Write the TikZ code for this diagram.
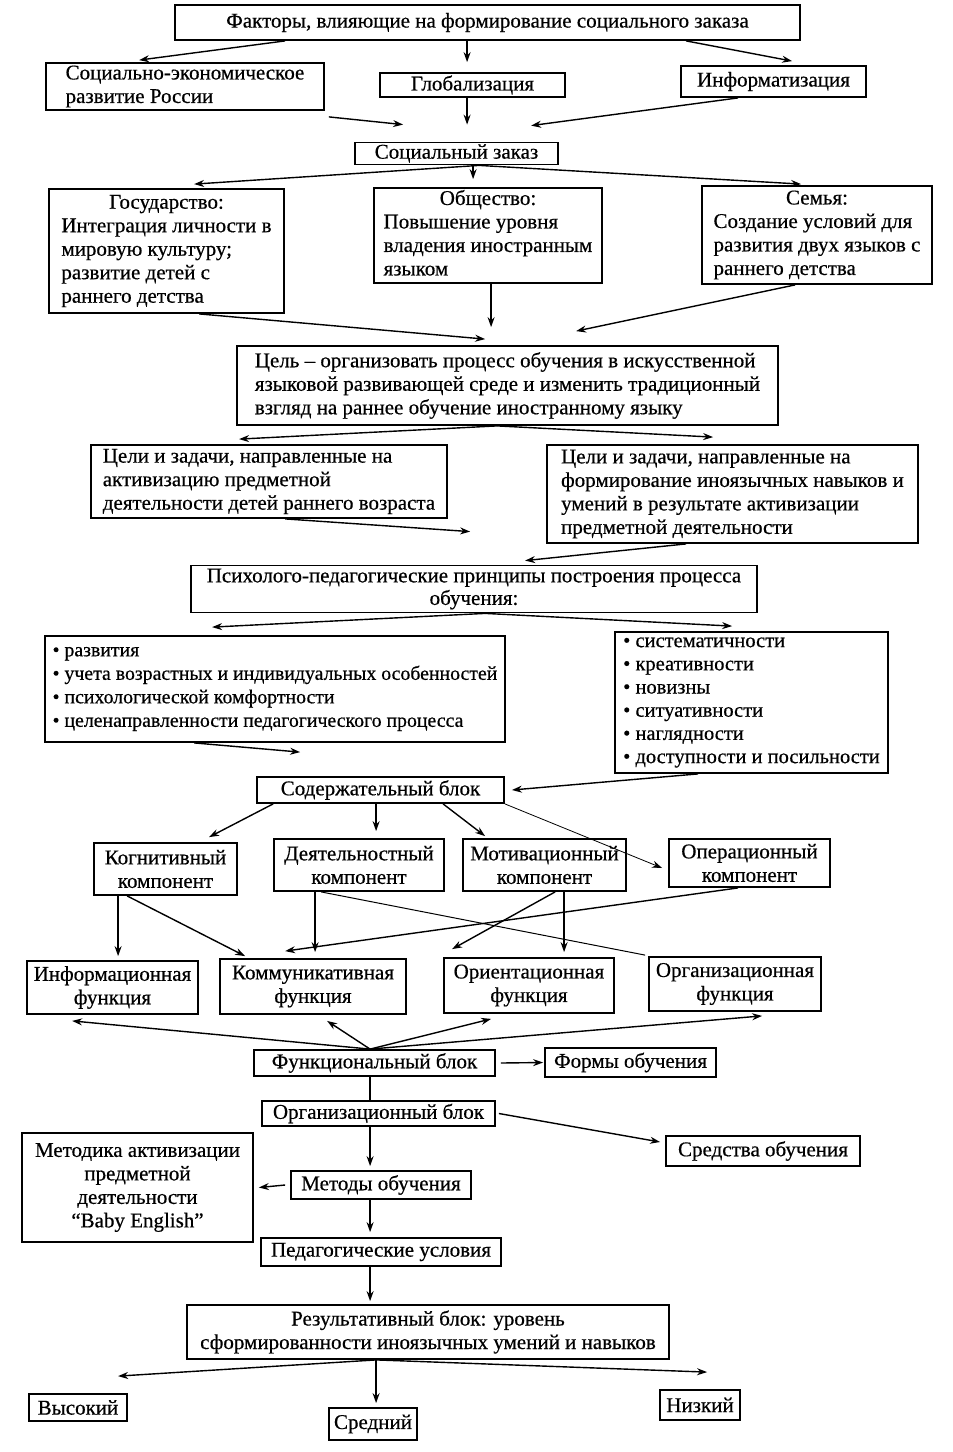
\documentclass[tikz,border=0pt]{standalone}
\usepackage{fontspec}
\setmainfont{Liberation Serif}[FakeBold=0.5]
\usetikzlibrary{arrows.meta}
\newcommand{\hd}[2]{\begin{tabular}{@{}l@{}}\multicolumn{1}{@{}c@{}}{#1}\\#2\end{tabular}}
\begin{document}
\begin{tikzpicture}[x=1pt,y=-1pt,
  every node/.style={font=\fontsize{21}{23.5}\selectfont},
  bx/.style={draw, line width=1.8pt, inner sep=0pt, align=center},
  lb/.style={bx, align=left},
  ar/.style={-{Stealth[length=10pt,width=7pt]}, line width=1.4pt},
  ln/.style={line width=1.4pt}]
\fill[white] (0,0) rectangle (953,1452);
\useasboundingbox (0,0) rectangle (953,1452);

% nodes
\node[bx, minimum width=625, minimum height=35] (f) at (487.5,22.5) {Факторы, влияющие на формирование социального заказа};
\node[lb, minimum width=278, minimum height=47] (s2) at (185,86.5) {Социально-экономическое\\развитие России};
\node[bx, minimum width=185, minimum height=24] (gl) at (472.5,85) {Глобализация};
\node[bx, minimum width=185, minimum height=31] (inf) at (773.5,81.5) {Информатизация};
\node[bx, minimum width=203, minimum height=22] (sz) at (456.5,153.5) {Социальный заказ};

\node[bx, minimum width=235, minimum height=124] (gos) at (166.5,251) {\hd{Государство:}{Интеграция личности в\\мировую культуру;\\развитие детей с\\раннего детства}};
\node[bx, minimum width=228, minimum height=95] (obs) at (488,235.5) {\hd{Общество:}{Повышение уровня\\владения иностранным\\языком}};
\node[bx, minimum width=230, minimum height=98] (sem) at (817,235) {\hd{Семья:}{Создание условий для\\развития двух языков с\\раннего детства}};

\node[lb, minimum width=541, minimum height=79] (cel) at (507.5,385.5) {Цель – организовать процесс обучения в искусственной\\языковой развивающей среде и изменить традиционный\\взгляд на раннее обучение иностранному языку};

\node[lb, minimum width=356, minimum height=73] (c10) at (269,481.5) {Цели и задачи, направленные на\\активизацию предметной\\деятельности детей раннего возраста};
\node[lb, minimum width=371, minimum height=98] (c11) at (732.5,494) {Цели и задачи, направленные на\\формирование иноязычных навыков и\\умений в результате активизации\\предметной деятельности};

\node[bx, minimum width=566, minimum height=47, font=\fontsize{21}{22.5}\selectfont] (pp) at (474,589) {Психолого-педагогические принципы построения процесса\\обучения:};

\node[lb, minimum width=460, minimum height=106, font=\fontsize{19.8}{23.5}\selectfont] (ll) at (275,689) {• развития\\• учета возрастных и индивидуальных особенностей\\• психологической комфортности\\• целенаправленности педагогического процесса};
\node[lb, minimum width=273, minimum height=141, font=\fontsize{20.5}{23.2}\selectfont] (rl) at (751.5,702.5) {• систематичности\\• креативности\\• новизны\\• ситуативности\\• наглядности\\• доступности и посильности};

\node[bx, minimum width=247, minimum height=26] (sod) at (380.5,790) {Содержательный блок};

\node[bx, minimum width=143, minimum height=52] (kog) at (165.5,869) {Когнитивный\\компонент};
\node[bx, minimum width=170, minimum height=52] (dey) at (359,865) {Деятельностный\\компонент};
\node[bx, minimum width=163, minimum height=52] (mot) at (544.5,865) {Мотивационный\\компонент};
\node[bx, minimum width=161, minimum height=48] (ope) at (749.5,863) {Операционный\\компонент};

\node[bx, minimum width=171, minimum height=53] (inf2) at (112.5,987.5) {Информационная\\функция};
\node[bx, minimum width=186, minimum height=55] (kom) at (313,986.5) {Коммуникативная\\функция};
\node[bx, minimum width=170, minimum height=55] (ori) at (529,985.5) {Ориентационная\\функция};
\node[bx, minimum width=172, minimum height=54] (org) at (735,984) {Организационная\\функция};

\node[bx, minimum width=241, minimum height=26] (fun) at (374.5,1063) {Функциональный блок};
\node[bx, minimum width=171, minimum height=29] (form) at (630.5,1062.5) {Формы обучения};
\node[bx, minimum width=233, minimum height=25] (orgb) at (378.5,1113.5) {Организационный блок};
\node[bx, minimum width=194, minimum height=30] (sred) at (763,1151) {Средства обучения};
\node[bx, minimum width=231, minimum height=109] (met) at (137.5,1187.5) {Методика активизации\\предметной\\деятельности\\“Baby English”};
\node[bx, minimum width=180, minimum height=28] (mo) at (381,1185) {Методы обучения};
\node[bx, minimum width=240, minimum height=28] (ped) at (381,1252) {Педагогические условия};
\node[bx, minimum width=482, minimum height=54] (res) at (428,1332) {Результативный блок: уровень\\сформированности иноязычных умений и навыков};
\node[bx, minimum width=98, minimum height=27] (vys) at (78,1407.5) {Высокий};
\node[bx, minimum width=88, minimum height=32] (sre) at (373,1424) {Средний};
\node[bx, minimum width=80, minimum height=30] (niz) at (700,1405) {Низкий};

% connectors
\draw[ar] ([xshift=111]f.south west) -- ([xshift=94,yshift=2]s2.north west);
\draw[ar] ([xshift=293]f.south west) -- ([xshift=88,yshift=10]gl.north west);
\draw[ar] ([xshift=512]f.south west) -- ([xshift=112,yshift=4]inf.north west);

\draw[ar] ([xshift=4,yshift=-6]s2.south east) -- ([xshift=49,yshift=17]sz.north west);
\draw[ar] ([xshift=88]gl.south west) -- ([xshift=113,yshift=17]sz.north west);
\draw[ar] ([xshift=58]inf.south west) -- ([xshift=177,yshift=16]sz.north west);

\draw[ar] ([xshift=125]sz.south west) -- ([xshift=146,yshift=4]gos.north west);
\draw[ar] ([xshift=119]sz.south west) -- ([xshift=100,yshift=8]obs.north west);
\draw[ar] ([xshift=125]sz.south west) -- ([xshift=100,yshift=1]sem.north west);

\draw[ar] ([xshift=151]gos.south west) -- ([xshift=249,yshift=6]cel.north west);
\draw[ar] ([xshift=118]obs.south west) -- ([xshift=255,yshift=18]cel.north west);
\draw[ar] ([xshift=94]sem.south west) -- ([xshift=340,yshift=14]cel.north west);

\draw[ar] ([xshift=261]cel.south west) -- ([xshift=149,yshift=5]c10.north west);
\draw[ar] ([xshift=261]cel.south west) -- ([xshift=167,yshift=7]c11.north west);

\draw[ar] ([xshift=195]c10.south west) -- ([xshift=280,yshift=33]pp.north west);
\draw[ar] ([xshift=140]c11.south west) -- ([xshift=335,yshift=4]pp.north west);

\draw[ar] ([xshift=295]pp.south west) -- ([xshift=168,yshift=8]ll.north west);
\draw[ar] ([xshift=295]pp.south west) -- ([xshift=118,yshift=5]rl.north west);

\draw[ar] ([xshift=150]ll.south west) -- ([xshift=44,yshift=24]sod.north west);
\draw[ar] ([xshift=84]rl.south west) -- ([xshift=7]sod.east);

\draw[ar] ([xshift=17]sod.south west) -- ([xshift=116,yshift=5]kog.north west);
\draw[ar] ([xshift=120]sod.south west) -- ([xshift=103,yshift=7]dey.north west);
\draw[ar] ([xshift=187]sod.south west) -- ([xshift=23,yshift=2]mot.north west);
\draw[ar, line width=0.8pt] (sod.south east) -- ([xshift=-6,yshift=-5]ope.west);

\draw[ar] ([xshift=25]kog.south west) -- ([xshift=92,yshift=4]inf2.north west);
\draw[ar] ([xshift=34]kog.south west) -- ([xshift=26,yshift=2]kom.north west);
\draw[ar] ([xshift=42]dey.south west) -- ([xshift=96,yshift=6]kom.north west);
\draw[ln, line width=1pt] ([xshift=48]dey.south west) -- ([xshift=-3,yshift=1]org.north west);
\draw[ar] ([xshift=93]mot.south west) -- ([xshift=9,yshift=8]ori.north west);
\draw[ar] ([xshift=102]mot.south west) -- ([xshift=121,yshift=5]ori.north west);
\draw[ar] ([xshift=70]ope.south west) -- ([xshift=66,yshift=7]kom.north west);

\draw[ar] ([xshift=117]fun.north west) -- ([xshift=46,yshift=-6]inf2.south west);
\draw[ar] ([xshift=117]fun.north west) -- ([xshift=108,yshift=-6]kom.south west);
\draw[ar] ([xshift=117]fun.north west) -- ([xshift=48,yshift=-5]ori.south west);
\draw[ar] ([xshift=117]fun.north west) -- ([xshift=114,yshift=-4]org.south west);
\draw[ar] ([xshift=5]fun.east) -- ([xshift=-1]form.west);
\draw[ln] ([xshift=117]fun.south west) -- ([xshift=109]orgb.north west);

\draw[ar] ([xshift=3]orgb.east) -- ([xshift=-5,yshift=9]sred.west);
\draw[ar] ([xshift=109]orgb.south west) -- ([xshift=80,yshift=4]mo.north west);
\draw[ar] ([xshift=-5]mo.west) -- ([xshift=5]met.east);
\draw[ar] ([xshift=80]mo.south west) -- ([xshift=110,yshift=5]ped.north west);
\draw[ar] ([xshift=110]ped.south west) -- ([xshift=184,yshift=3]res.north west);

\draw[ar] ([xshift=190]res.south west) -- ([xshift=90,yshift=17]vys.north west);
\draw[ar] ([xshift=190]res.south west) -- ([xshift=48,yshift=4]sre.north west);
\draw[ar] ([xshift=190]res.south west) -- ([xshift=48,yshift=17]niz.north west);
\end{tikzpicture}
\end{document}
